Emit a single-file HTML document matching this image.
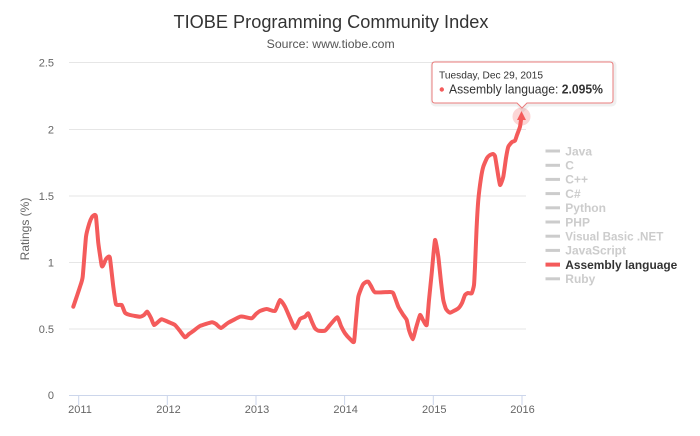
<!DOCTYPE html>
<html><head><meta charset="utf-8"><style>
html,body{margin:0;padding:0;background:#fff;}
svg{display:block;font-family:"Liberation Sans",Arial,sans-serif;}
</style></head><body>
<svg width="700" height="436" viewBox="0 0 700 436" xmlns="http://www.w3.org/2000/svg">
<rect width="700" height="436" fill="#fff"/>
<!-- title -->
<text x="173.5" y="28" font-size="18" fill="#333" textLength="315" lengthAdjust="spacingAndGlyphs">TIOBE Programming Community Index</text>
<text x="266.7" y="48" font-size="12" fill="#555" textLength="128" lengthAdjust="spacingAndGlyphs">Source: www.tiobe.com</text>
<!-- gridlines -->
<g stroke="#e6e6e6" stroke-width="1">
<line x1="69" y1="62.5" x2="526" y2="62.5"/>
<line x1="69" y1="129.5" x2="526" y2="129.5"/>
<line x1="69" y1="196" x2="526" y2="196"/>
<line x1="69" y1="262.5" x2="526" y2="262.5"/>
<line x1="69" y1="329" x2="526" y2="329"/>
</g>
<!-- x axis -->
<g stroke="#ccd6eb" stroke-width="1">
<line x1="69" y1="395.5" x2="526" y2="395.5"/>
<line x1="78.7" y1="395" x2="78.7" y2="405"/>
<line x1="167.3" y1="395" x2="167.3" y2="405"/>
<line x1="256" y1="395" x2="256" y2="405"/>
<line x1="344.6" y1="395" x2="344.6" y2="405"/>
<line x1="433.3" y1="395" x2="433.3" y2="405"/>
<line x1="522" y1="395" x2="522" y2="405"/>
</g>
<g font-size="11" fill="#666" text-anchor="middle">
<text x="80" y="413">2011</text>
<text x="168.5" y="413">2012</text>
<text x="257" y="413">2013</text>
<text x="345.6" y="413">2014</text>
<text x="434.3" y="413">2015</text>
<text x="522.5" y="413">2016</text>
</g>
<g font-size="11" fill="#666" text-anchor="end">
<text x="54" y="66.5">2.5</text>
<text x="54" y="133.5">2</text>
<text x="54" y="200">1.5</text>
<text x="54" y="266.5">1</text>
<text x="54" y="333">0.5</text>
<text x="54" y="399">0</text>
</g>
<text transform="translate(29,229) rotate(-90)" font-size="12" fill="#666" text-anchor="middle">Ratings (%)</text>
<!-- series -->
<polyline id="series" fill="none" stroke="#f45b5b" stroke-width="4" stroke-linejoin="round" stroke-linecap="round" points="
73.3,306.7 76.7,296.7 80,286.7 82.7,276.7 86,236.7 89.3,223.3 92,217 94.3,215 96,216.7 98.3,243 101.7,265.7 103.3,265 106,259 108.3,256.7 110,258.3 113.3,286.7 116,304.3 121.7,305 125,312.7 130,315 140,316.7 144,315 147.3,311.7 151,318 154,325 158,322 161.7,319.3 170,322.7 175,325 180,331 185,337.3 189,334 193.3,331 200,326 211.7,322.3 216,324 221,328 228.3,322.7 240,316.7 243.3,316.7 251.7,318.3 256,314 260,311 266.7,309 275,311 280,300 285,306.7 290,318 295,328.3 300,319 305,316.7 308.3,313.3 312,322 315,328.3 318.3,330.7 325,330.7 330,325 337.3,317.3 341,326 345,333.3 350,339 354,341.7 356,320 358.3,296.7 362.7,285 366,282 368.3,281.7 371,286 375,292.3 390,292 393.3,293.3 398.3,306.7 403.3,315 406.7,320 409,330 412.7,339.3 416,328 420,315 423,320 426.7,325 429,300 431.7,273.3 435,240 438.3,256.7 441,282 443.3,300 446,309 450,312.7 458.3,308.3 462,303 465,295 468,293 471.7,293.3 474,285 475,266.7 476.5,230 478.3,200 481,178 483.3,166.7 487,158 490,155 493,154 495,156 497,168 500,185 503.3,176.7 506,158 508.3,146.7 512,142 515,140.7 517,135 520,126.7 521.5,116"/>
<!-- hover halo and marker -->
<circle cx="521.5" cy="116.5" r="9" fill="#f45b5b" fill-opacity="0.25"/>
<path d="M521.5 111 L526 120 L517 120 Z" fill="#f45b5b"/>
<!-- legend -->
<g stroke="#cccccc" stroke-width="3">
<line x1="545.5" y1="151" x2="560" y2="151"/>
<line x1="545.5" y1="165.3" x2="560" y2="165.3"/>
<line x1="545.5" y1="179.4" x2="560" y2="179.4"/>
<line x1="545.5" y1="193.6" x2="560" y2="193.6"/>
<line x1="545.5" y1="207.8" x2="560" y2="207.8"/>
<line x1="545.5" y1="222" x2="560" y2="222"/>
<line x1="545.5" y1="236.2" x2="560" y2="236.2"/>
<line x1="545.5" y1="250.4" x2="560" y2="250.4"/>
<line x1="545.5" y1="278.8" x2="560" y2="278.8"/>
</g>
<line x1="545.5" y1="264.6" x2="560" y2="264.6" stroke="#f45b5b" stroke-width="4"/>
<g font-size="12" font-weight="bold" fill="#cccccc">
<text x="565.3" y="155.3">Java</text>
<text x="565.3" y="169.5">C</text>
<text x="565.3" y="183.7">C++</text>
<text x="565.3" y="197.9">C#</text>
<text x="565.3" y="212.1">Python</text>
<text x="565.3" y="226.3">PHP</text>
<text x="565.3" y="240.5" textLength="98" lengthAdjust="spacingAndGlyphs">Visual Basic .NET</text>
<text x="565.3" y="254.7">JavaScript</text>
<text x="565.3" y="268.9" fill="#333333" textLength="112" lengthAdjust="spacingAndGlyphs">Assembly language</text>
<text x="565.3" y="283.1">Ruby</text>
</g>
<!-- tooltip -->
<path d="M435 62 L610 62 Q613 62 613 65 L613 100 Q613 103 610 103 L527 103 L522 108 L517 103 L435 103 Q432 103 432 100 L432 65 Q432 62 435 62 Z" fill="none" stroke="#000" stroke-opacity="0.06" stroke-width="5" transform="translate(1,1)"/>
<path d="M435 62 L610 62 Q613 62 613 65 L613 100 Q613 103 610 103 L527 103 L522 108 L517 103 L435 103 Q432 103 432 100 L432 65 Q432 62 435 62 Z" fill="#fff" fill-opacity="0.96" stroke="#ea7c7c" stroke-width="1"/>
<text x="439" y="78.5" font-size="10" fill="#333" textLength="104" lengthAdjust="spacingAndGlyphs">Tuesday, Dec 29, 2015</text>
<circle cx="441.8" cy="89.5" r="2.2" fill="#f45b5b"/>
<text x="449" y="93.5" font-size="12.5" fill="#333" textLength="154" lengthAdjust="spacingAndGlyphs">Assembly language: <tspan font-weight="bold">2.095%</tspan></text>
</svg>
<script>
(function(){
  var pl=document.getElementById('series');
  var raw=pl.getAttribute('points').trim().split(/\s+/).map(function(s){var a=s.split(',');return [+a[0],+a[1]];});
  var d='M'+raw[0][0]+' '+raw[0][1];
  var t=0.5;
  for(var i=0;i<raw.length-1;i++){
    var p0=raw[i-1]||raw[i],p1=raw[i],p2=raw[i+1],p3=raw[i+2]||raw[i+1];
    var c1x=p1[0]+(p2[0]-p0[0])/6*t*2*0.5, c1y=p1[1]+(p2[1]-p0[1])/6*t*2*0.5;
    var c2x=p2[0]-(p3[0]-p1[0])/6*t*2*0.5, c2y=p2[1]-(p3[1]-p1[1])/6*t*2*0.5;
    d+=' C'+c1x.toFixed(2)+' '+c1y.toFixed(2)+' '+c2x.toFixed(2)+' '+c2y.toFixed(2)+' '+p2[0]+' '+p2[1];
  }
  var ns='http://www.w3.org/2000/svg';
  var p=document.createElementNS(ns,'path');
  p.setAttribute('d',d);
  p.setAttribute('fill','none');
  p.setAttribute('stroke','#f45b5b');
  p.setAttribute('stroke-width','4');
  p.setAttribute('stroke-linejoin','round');
  p.setAttribute('stroke-linecap','round');
  pl.parentNode.replaceChild(p,pl);
})();
</script>
</body></html>
